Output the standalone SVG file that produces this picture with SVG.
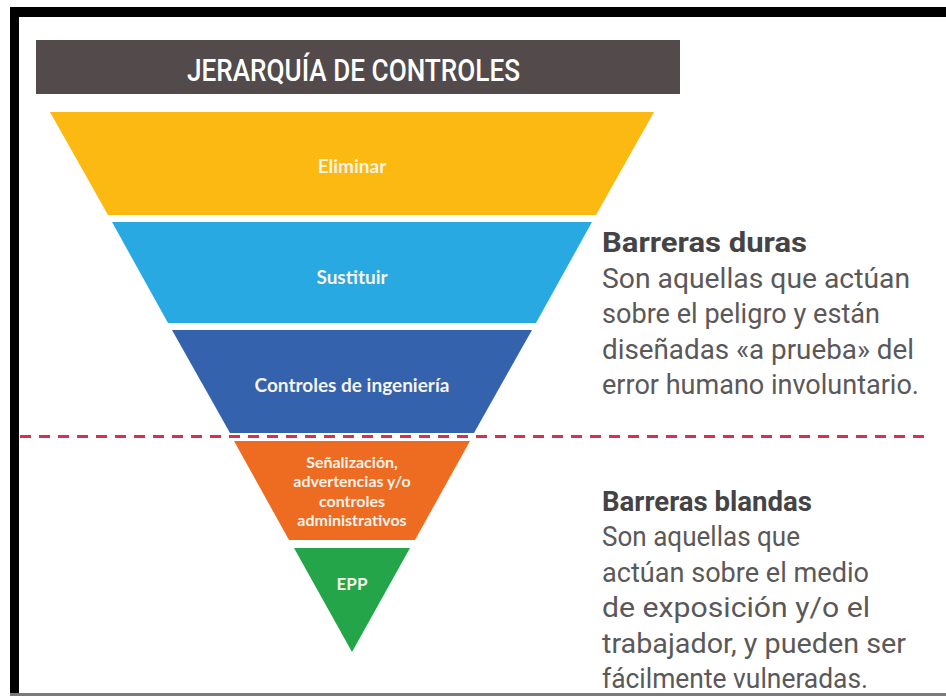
<svg xmlns="http://www.w3.org/2000/svg" width="946" height="696" viewBox="0 0 946 696">
<style>
.band-label{font-family:Lato,"Open Sans",sans-serif;font-weight:700;font-size:19px;fill:#f7f3ea;text-anchor:middle}
.small{font-size:16px}
.title{font-family:Roboto,"Liberation Sans",sans-serif;font-weight:500;font-size:32px;fill:#ffffff}
.head{font-family:Roboto,"Liberation Sans",sans-serif;font-weight:700;font-size:28px;fill:#454345}
.body{font-family:Roboto,"Liberation Sans",sans-serif;font-weight:400;font-size:28px;fill:#5a5859}
</style>
<rect x="0" y="0" width="946" height="696" fill="#ffffff"/>
<!-- frame -->
<rect x="10" y="7" width="936" height="10" fill="#000000"/>
<rect x="10" y="7" width="9" height="689" fill="#000000"/>
<rect x="10" y="693" width="936" height="3" fill="#7a7a7a"/>

<g id="title">
<rect x="36" y="40" width="644" height="54" fill="#524a4b"/>
<text class="title" x="187" y="81" textLength="333" lengthAdjust="spacingAndGlyphs">JERARQUÍA DE CONTROLES</text>
</g>

<g id="eliminar">
<polygon points="50,112 654,112 596,215 108,215" fill="#fbb912"/>
<text class="band-label" x="352" y="173">Eliminar</text>
</g>
<g id="sustituir">
<polygon points="112,222 592,222 536,323 168,323" fill="#29a9e1"/>
<text class="band-label" x="352" y="284">Sustituir</text>
</g>
<g id="ingenieria">
<polygon points="172,330 532,330 474,433 230,433" fill="#3462ad"/>
<text class="band-label" x="352" y="392">Controles de ingeniería</text>
</g>
<g id="senalizacion">
<polygon points="234,441 470,441 415,540 289,540" fill="#ee6c22"/>
<text class="band-label small" x="352" y="468">Señalización,</text>
<text class="band-label small" x="352" y="487.3">advertencias y/o</text>
<text class="band-label small" x="352" y="506.6">controles</text>
<text class="band-label small" x="352" y="525.9">administrativos</text>
</g>
<g id="epp">
<polygon points="294,548 410,548 352,652" fill="#25a54a"/>
<text class="band-label" x="352" y="590" style="font-size:17px">EPP</text>
</g>

<g id="connectors">
<line x1="20" y1="436.5" x2="925" y2="436.5" stroke="#d92f50" stroke-width="3" stroke-dasharray="11 8"/>
</g>

<g id="barreras-duras">
<text class="head" x="602" y="252" textLength="205" lengthAdjust="spacingAndGlyphs">Barreras duras</text>
<text class="body" x="602" y="288" textLength="308" lengthAdjust="spacingAndGlyphs">Son aquellas que actúan</text>
<text class="body" x="602" y="323" textLength="278" lengthAdjust="spacingAndGlyphs">sobre el peligro y están</text>
<text class="body" x="602" y="359" textLength="312" lengthAdjust="spacingAndGlyphs">diseñadas «a prueba» del</text>
<text class="body" x="602" y="394" textLength="317" lengthAdjust="spacingAndGlyphs">error humano involuntario.</text>
</g>
<g id="barreras-blandas">
<text class="head" x="602" y="511" textLength="210" lengthAdjust="spacingAndGlyphs">Barreras blandas</text>
<text class="body" x="602" y="546" textLength="198" lengthAdjust="spacingAndGlyphs">Son aquellas que</text>
<text class="body" x="602" y="582" textLength="267" lengthAdjust="spacingAndGlyphs">actúan sobre el medio</text>
<text class="body" x="602" y="617" textLength="268" lengthAdjust="spacingAndGlyphs">de exposición y/o el</text>
<text class="body" x="602" y="653" textLength="304" lengthAdjust="spacingAndGlyphs">trabajador, y pueden ser</text>
<text class="body" x="602" y="688" textLength="266" lengthAdjust="spacingAndGlyphs">fácilmente vulneradas.</text>
</g>
</svg>
